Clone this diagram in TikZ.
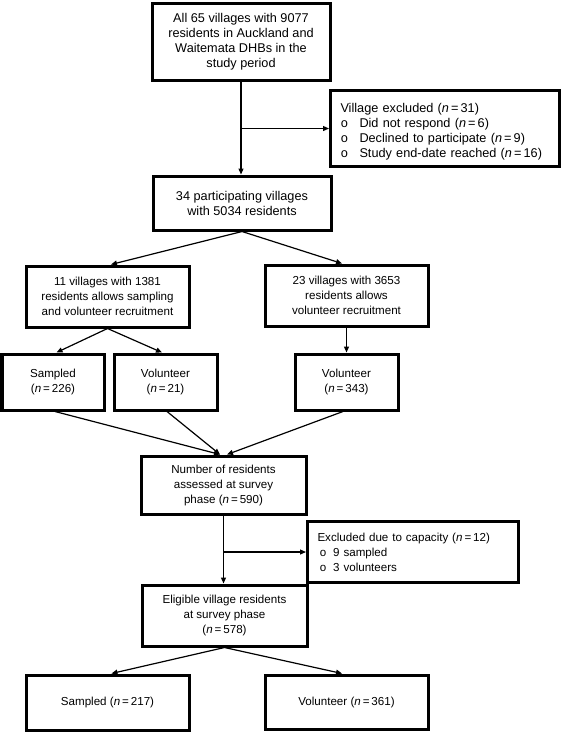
\documentclass[tikz,border=0pt]{standalone}
\usepackage{fontspec}
\setmainfont{Liberation Sans}
\newfontfamily\monobul{Liberation Mono}
\usetikzlibrary{arrows.meta}
\newcommand{\ncnt}[1]{(\textit{n}\,=\,#1)}
\newcommand{\bulA}{\makebox[19pt][l]{\monobul o}}
\newcommand{\bulB}{\hspace*{2pt}\makebox[13.7pt][l]{\monobul o}}
\begin{document}
\begin{tikzpicture}[x=1pt,y=-1pt,
  box/.style={draw, line width=3pt, align=center, inner sep=0pt,
    font=\fontsize{11.6}{15}\selectfont},
  bigtext/.style={font=\fontsize{12.7}{15}\selectfont},
  conn/.style={line width=1.2pt, -{Triangle[length=6pt,width=5pt]}}]
\useasboundingbox (0,0) rectangle (563,732);

\node[box, bigtext, minimum width=178pt, minimum height=77pt] (b1) at (241,41.5)
  {All 65 villages with 9077\\residents in Auckland and\\Waitemata DHBs in the\\study period};
\node[box, bigtext, anchor=north west, text width=209pt, inner xsep=10pt, minimum height=76pt, align=left] (e1) at (329,89)
  {\rule{0pt}{15pt}Village excluded \ncnt{31}\\\bulA Did not respond \ncnt{6}\\\bulA Declined to participate \ncnt{9}\\\bulA Study end-date reached \ncnt{16}};
\node[box, bigtext, minimum width=178pt, minimum height=54pt] (b2) at (242,203)
  {34 participating villages\\with 5034 residents};
\node[box, minimum width=163pt, minimum height=61pt] (b3) at (107.5,296.5)
  {11 villages with 1381\\residents allows sampling\\and volunteer recruitment};
\node[box, minimum width=163pt, minimum height=61pt] (b4) at (346.5,295.5)
  {23 villages with 3653\\residents allows\\volunteer recruitment};
\node[box, minimum width=102pt, minimum height=56pt] (s1) at (53,382)
  {Sampled\\\ncnt{226}};
\node[box, minimum width=103pt, minimum height=56pt] (v1) at (165.5,382)
  {Volunteer\\\ncnt{21}};
\node[box, minimum width=103pt, minimum height=56pt] (v2) at (346.5,382)
  {Volunteer\\\ncnt{343}};
\node[box, minimum width=165pt, minimum height=58pt] (b5) at (223.5,485)
  {Number of residents\\assessed at survey\\phase \ncnt{590}};
\node[box, anchor=north west, text width=191pt, inner xsep=10pt, minimum height=61pt, align=left] (e2) at (306,520)
  {Excluded due to capacity \ncnt{12}\\\bulB 9 sampled\\\bulB 3 volunteers};
\node[box, minimum width=165pt, minimum height=61pt] (b6) at (224.5,615.5)
  {Eligible village residents\\at survey phase\\\ncnt{578}};
\node[box, minimum width=163pt, minimum height=55pt] (b7) at (107.5,702.5)
  {Sampled \ncnt{217}};
\node[box, minimum width=163pt, minimum height=54pt] (b8) at (346.5,702)
  {Volunteer \ncnt{361}};

\coordinate (j1) at (b1.south |- e1.west);
\coordinate (j2) at (b5.south |- e2.west);

\draw[conn] (b1.south) -- (b1.south |- b2.north);
\draw[conn] (j1) -- (e1.west);
\draw[conn] (b2.south) -- ([xshift=3.5pt]b3.north);
\draw[conn] (b2.south) -- ([xshift=-4.5pt]b4.north);
\draw[conn] (b3.south) -- ([xshift=3.5pt]s1.north);
\draw[conn] (b3.south) -- ([xshift=-3.5pt]v1.north);
\draw[conn] (b4.south) -- (v2.north);
\draw[conn] ([xshift=2pt]s1.south) -- ([xshift=-3.5pt]b5.north);
\draw[conn] ([xshift=1.5pt]v1.south) -- ([xshift=-3.5pt]b5.north);
\draw[conn] ([xshift=-3.5pt]v2.south) -- ([xshift=3.5pt]b5.north);
\draw[conn] (b5.south) -- (b5.south |- b6.north);
\draw[conn] (j2) -- (e2.west);
\draw[conn] (b6.south) -- ([xshift=4pt]b7.north);
\draw[conn] (b6.south) -- ([xshift=-4.5pt]b8.north);
\end{tikzpicture}
\end{document}
